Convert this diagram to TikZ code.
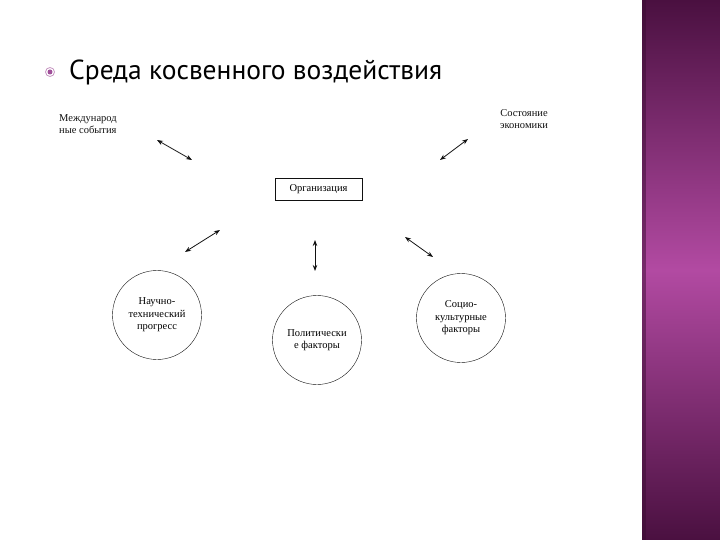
\documentclass[tikz,border=0pt]{standalone}
\usepackage{fontspec}
\setmainfont{Liberation Serif}
\newfontfamily\titlefont{PT Sans}
\usetikzlibrary{arrows.meta,positioning}
\definecolor{cText}{HTML}{111111}
\definecolor{cBandDark}{HTML}{4A1040}
\definecolor{cBandMid}{HTML}{B24AA2}
\definecolor{cBullet}{HTML}{A0509A}
\tikzset{
  lbl/.style={font=\fontsize{10.5}{12.5}\selectfont, text=cText, align=center, inner sep=1pt},
  orgbox/.style={draw=cText, thin, minimum width=87pt, minimum height=22pt,
                 font=\fontsize{10.5}{12.5}\selectfont, inner sep=2pt},
  factor/.style={circle, draw=cText, thin, minimum size=89pt, inner sep=0pt,
                 font=\fontsize{10.5}{12.5}\selectfont, align=center},
  arr/.style={{Stealth[length=6pt,width=4.5pt]}-{Stealth[length=6pt,width=4.5pt]}, thick, cText}
}
\begin{document}
\begin{tikzpicture}[x=1pt, y=-1pt]
\useasboundingbox (0,0) rectangle (720,540);
% side band
\shade[top color=cBandDark, bottom color=cBandDark, middle color=cBandMid]
  (642,0) rectangle (720,540);
\fill[cBandDark!80!black, opacity=0.5] (642,0) rectangle (646,540);
% title
\draw[cBullet!60, thick] (50,72) circle (4.5);
\fill[cBullet] (50,72) circle (2.5);
\node[anchor=west, font=\titlefont\fontsize{27.5}{32}\selectfont, inner sep=0pt] (title)
  at (69,72) {Среда косвенного воздействия};
% nodes
\node[lbl, align=left, anchor=west] (intl) at (58,124) {Международ\\ные события};
\node[lbl] (econ) at (524,119) {Состояние\\экономики};
\node[orgbox] (org) at (318.5,189) {Организация};
\node[factor] (tech) at (157,315) {Научно-\\технический\\прогресс};
\node[factor] (pol) at (317,340) {Политически\\е факторы};
\node[factor] (soc) at (461,318) {Социо-\\культурные\\факторы};
% arrow ends
\coordinate (a1s) at (157,140); \coordinate (a1e) at (192,160);
\coordinate (a2s) at (440,160); \coordinate (a2e) at (468,139);
\coordinate (a3s) at (185,252); \coordinate (a3e) at (220,230);
\coordinate (a4s) at (315,240); \coordinate (a4e) at (315,271);
\coordinate (a5s) at (405,237); \coordinate (a5e) at (433,257);
\draw[arr] (a1s) -- (a1e);
\draw[arr] (a2s) -- (a2e);
\draw[arr] (a3s) -- (a3e);
\draw[arr] (a4s) -- (a4e);
\draw[arr] (a5s) -- (a5e);
\end{tikzpicture}
\end{document}
